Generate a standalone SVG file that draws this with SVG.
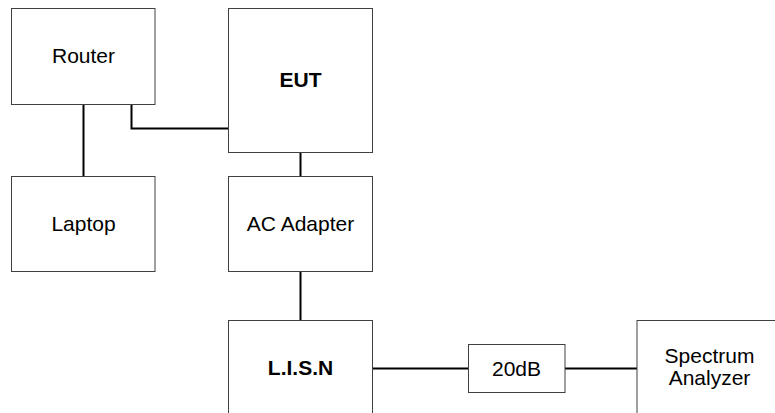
<svg xmlns="http://www.w3.org/2000/svg" width="775" height="413" viewBox="0 0 775 413">
<style>
.box{fill:#fff;stroke:#404040;stroke-width:1}
.lbl{font-family:"Liberation Sans",Arial,sans-serif;font-size:21px;fill:#000;text-anchor:middle}
.b{font-weight:bold}
.conn{fill:none;stroke:#000;stroke-width:2}
</style>
<rect width="775" height="413" fill="#fff"/>
<g id="connectors">
<path class="conn" d="M83.5 104.5V176.5"/>
<path class="conn" d="M131.5 105V128.5H228.5"/>
<path class="conn" d="M300.5 152.5V176.5"/>
<path class="conn" d="M300.5 271.5V320.5"/>
<path class="conn" d="M372.5 368.5H468.5"/>
<path class="conn" d="M565 368.5H637"/>
</g>
<g id="router"><rect class="box" x="11.5" y="8.5" width="143.5" height="96"/><text class="lbl" x="83.5" y="63">Router</text></g>
<g id="eut"><rect class="box" x="228.5" y="8.5" width="144" height="144"/><text class="lbl b" x="300.5" y="87">EUT</text></g>
<g id="laptop"><rect class="box" x="11.5" y="176.5" width="143.5" height="95"/><text class="lbl" x="83.5" y="231">Laptop</text></g>
<g id="ac-adapter"><rect class="box" x="228.5" y="176.5" width="144" height="95"/><text class="lbl" x="300.5" y="231">AC Adapter</text></g>
<g id="lisn"><rect class="box" x="228.5" y="320.5" width="144" height="110"/><text class="lbl b" x="300.5" y="375">L.I.S.N</text></g>
<g id="attenuator"><rect class="box" x="468.5" y="344.5" width="96.5" height="48"/><text class="lbl" x="516.5" y="375.5">20dB</text></g>
<g id="spectrum-analyzer"><rect class="box" x="637" y="320.5" width="150" height="110"/><text class="lbl" x="709.5" y="363">Spectrum</text><text class="lbl" x="709.5" y="385">Analyzer</text></g>
</svg>
